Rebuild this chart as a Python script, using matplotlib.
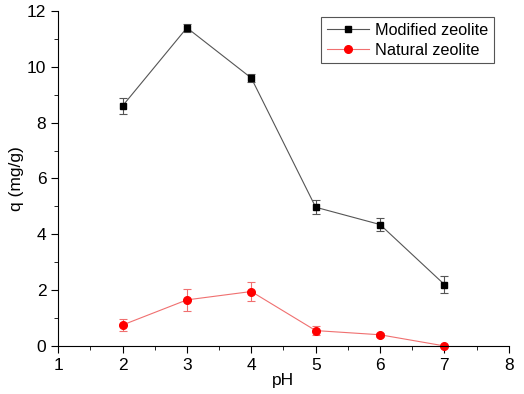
import numpy as np
import matplotlib
matplotlib.use("Agg")
import matplotlib.pyplot as plt
from matplotlib.ticker import MultipleLocator

plt.rcParams['font.family'] = ['Liberation Sans', 'DejaVu Sans']

# data
ph = [2, 3, 4, 5, 6, 7]
q_modified = [8.6, 11.4, 9.6, 4.97, 4.35, 2.2]
err_modified = [0.3, 0.15, 0.15, 0.25, 0.22, 0.3]
q_natural = [0.75, 1.65, 1.95, 0.55, 0.4, 0.0]
err_natural = [0.2, 0.4, 0.35, 0.15, 0.07, 0.0]

fig = plt.figure(figsize=(5.24, 3.94), dpi=100)
ax = fig.add_axes([0.111, 0.122, 0.86, 0.85])

eb1 = ax.errorbar(ph, q_modified, yerr=err_modified, color='#555555', lw=0.8,
                  marker='s', ms=5, mfc='black', mec='black', ecolor='#555555',
                  elinewidth=0.8, capsize=3, capthick=0.8)
eb2 = ax.errorbar(ph, q_natural, yerr=err_natural, color='#f07070', lw=0.8,
                  marker='o', ms=5.5, mfc='red', mec='red', ecolor='#f07070',
                  elinewidth=0.8, capsize=3, capthick=0.8)
eb2.lines[0].set_clip_on(False)

ax.set_xlim(1, 8)
ax.set_ylim(0, 12)
ax.xaxis.set_major_locator(MultipleLocator(1))
ax.xaxis.set_minor_locator(MultipleLocator(0.5))
ax.yaxis.set_major_locator(MultipleLocator(2))
ax.yaxis.set_minor_locator(MultipleLocator(1))
ax.spines['top'].set_visible(False)
ax.spines['right'].set_visible(False)
ax.tick_params(which='major', direction='out', length=5, labelsize=12.5)
ax.tick_params(which='minor', direction='out', length=3)

ax.set_xlabel('pH', fontsize=12.5, labelpad=0)
ax.set_ylabel('q (mg/g)', fontsize=12.5, labelpad=2)

leg = ax.legend([eb1.lines[0], eb2.lines[0]], ['Modified zeolite', 'Natural zeolite'],
                loc='upper right', bbox_to_anchor=(0.967, 0.982), fontsize=11.7,
                fancybox=False, edgecolor='#555555', framealpha=1,
                handlelength=2.6, borderpad=0.35, labelspacing=0.3,
                handletextpad=0.35, borderaxespad=0)
leg.get_frame().set_linewidth(0.8)

fig.savefig('out.png', dpi=100)
